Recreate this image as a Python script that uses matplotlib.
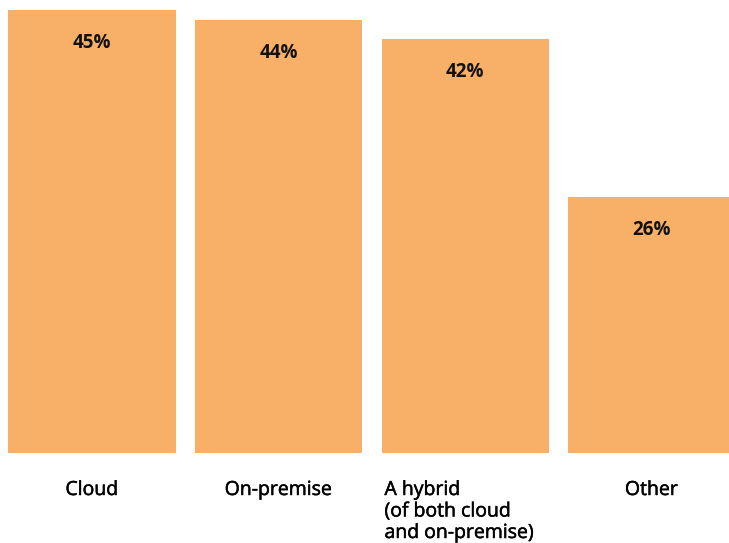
import matplotlib
matplotlib.use("Agg")
import matplotlib.pyplot as plt
import matplotlib.patheffects as pe

categories = ["Cloud", "On-premise", "A hybrid\n(of both cloud\nand on-premise)", "Other"]
values = [45, 44, 42, 26]
value_labels = ["45%", "44%", "42%", "26%"]

W, H, DPI = 729, 543, 100
fig = plt.figure(figsize=(W / DPI, H / DPI), dpi=DPI)
base_px = 453
ax = fig.add_axes([0, (H - base_px) / H, 1, base_px / H])
ax.set_axis_off()

color = "#F8B068"
step = 186.5
bw = 167.0 / step
x = list(range(len(categories)))
ax.bar(x, values, width=bw, color=color, linewidth=0)
ax.set_xlim(-92 / step, -92 / step + W / step)
ax.set_ylim(0, base_px / 9.85)

font = ["Open Sans", "DejaVu Sans"]
thick = [pe.withStroke(linewidth=0.35, foreground="#000000")]
for xi, v, lab in zip(x, values, value_labels):
    ax.annotate(lab, xy=(xi, v), xycoords="data", xytext=(0, -33), textcoords="offset pixels",
                ha="center", va="center", fontsize=13.5, fontweight="bold", family=font, color="#111111")

for xi, cat in zip(x, categories):
    if "\n" in cat:
        ax.annotate(cat, xy=(xi - bw / 2, 0), xycoords="data", xytext=(3, -28), textcoords="offset pixels",
                    ha="left", va="top", fontsize=14, family=font,
                    color="#000000", linespacing=1.25, path_effects=thick)
    else:
        ax.annotate(cat, xy=(xi, 0), xycoords="data", xytext=(0, -28), textcoords="offset pixels",
                    ha="center", va="top", fontsize=14, family=font,
                    color="#000000", path_effects=thick)

fig.savefig("out.png", dpi=DPI)
